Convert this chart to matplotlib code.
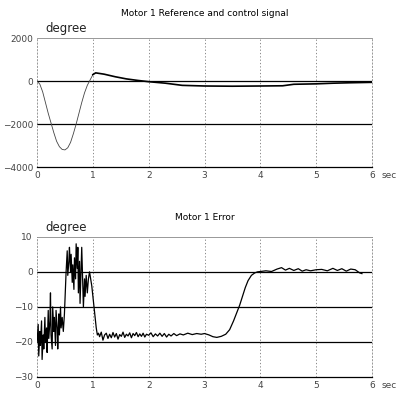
import matplotlib
matplotlib.use("Agg")
import matplotlib.pyplot as plt

# top plot: reference dip (thin) and control signal (thick), degrees vs seconds
ref_t = [0.0, 0.05, 0.1, 0.15, 0.2, 0.25, 0.3, 0.35, 0.4, 0.45, 0.5, 0.55,
         0.6, 0.65, 0.7, 0.75, 0.8, 0.85, 0.9, 0.95, 1.0]
ref_v = [0, -150, -500, -1000, -1500, -1950, -2400, -2800, -3050, -3180, -3200,
         -3100, -2850, -2450, -2000, -1500, -1000, -550, -200, 50, 300]

ctl_t = [1.0, 1.05, 1.2, 1.4, 1.6, 1.8, 2.0, 2.3, 2.6, 3.0, 3.5, 4.0, 4.4,
         4.6, 5.0, 5.3, 5.6, 6.0]
ctl_v = [300, 380, 320, 200, 100, 30, -30, -100, -200, -230, -240, -230, -220,
         -150, -130, -100, -80, -60]

# bottom plot: error signal
err_t = [0.00, 0.02, 0.03, 0.05, 0.06, 0.08, 0.09, 0.11, 0.12, 0.14, 0.15, 0.17,
         0.18, 0.20, 0.21, 0.23, 0.24, 0.25, 0.27, 0.28, 0.30, 0.31, 0.33, 0.34,
         0.36, 0.37, 0.39, 0.40, 0.42, 0.43, 0.45, 0.47, 0.49, 0.51, 0.52, 0.54,
         0.55, 0.57, 0.58, 0.60, 0.61, 0.63, 0.64, 0.66, 0.67, 0.69, 0.70, 0.72,
         0.73, 0.74, 0.76, 0.77, 0.79, 0.80, 0.82, 0.83, 0.85, 0.86, 0.88, 0.90,
         0.92, 0.94, 0.96, 0.98, 1.00, 1.02, 1.04, 1.06, 1.08, 1.10,
         1.12, 1.15, 1.18, 1.21, 1.24, 1.27, 1.30, 1.33, 1.36, 1.39, 1.42, 1.45,
         1.48, 1.51, 1.54, 1.57, 1.60, 1.63, 1.66, 1.69, 1.72, 1.75, 1.78, 1.81,
         1.84, 1.87, 1.90, 1.93, 1.96, 2.00, 2.04, 2.08, 2.12, 2.16, 2.20, 2.24,
         2.28, 2.32, 2.36, 2.40, 2.45, 2.50, 2.56, 2.62, 2.70, 2.78, 2.86, 2.94,
         3.00, 3.08, 3.15, 3.22, 3.30, 3.38, 3.45, 3.52, 3.58, 3.63, 3.68, 3.73,
         3.78, 3.84, 3.90, 3.95, 4.00, 4.10, 4.20, 4.30, 4.38, 4.45, 4.52, 4.60,
         4.68, 4.75, 4.82, 4.90, 5.00, 5.10, 5.20, 5.30, 5.38, 5.46, 5.54, 5.62,
         5.70, 5.78, 5.82]
err_v = [-20, -15, -24, -17, -21, -14, -25, -18, -22, -13, -20, -16,
         -23, -11, -19, -14, -6, -18, -22, -10, -17, -13, -21, -11,
         -16, -22, -12, -18, -10, -16, -13, -17, -12, -4, 0, 6,
         -1, 3, 7, 0, 5, -3, 2, -5, 4, -2, 8, 1,
         7, -6, 3, -9, 2, 7, -4, -10, -2, -7, -1, -6,
         -2, 0, -2, -4, -7, -10, -13, -16, -18, -17.5,
         -18.5, -17.2, -19.5, -18, -17.5, -19, -17.8, -18.8, -17.3, -18.6, -17.6, -19.2,
         -17.9, -18.4, -17.2, -18.7, -17.8, -18.3, -17.4, -18.8, -17.6, -18.2, -17.3, -18.5,
         -17.7, -18.4, -17.5, -18.6, -17.8, -18.1, -17.4, -18.5, -17.7, -18.3, -17.5, -18.4,
         -17.6, -18.6, -17.8, -18.3, -17.6, -18.2, -17.7, -18.0, -17.5, -17.9, -17.6, -17.8,
         -17.6, -18.0, -18.5, -18.7, -18.4, -17.8, -16.5, -14, -11.5, -9.5, -7, -4.5,
         -2.5, -1, -0.3, 0, 0.1, 0.3, 0.1, 0.8, 1.2, 0.5, 1.0, 0.4,
         0.9, 0.2, 0.6, 0.3, 0.6, 0.7, 0.3, 1.0, 0.4, 0.9, 0.2, 0.8,
         0.6, -0.3, -0.5]

x_ticks = [0, 1, 2, 3, 4, 5, 6]
top_yticks = [-4000, -2000, 0, 2000]
bot_yticks = [-30, -20, -10, 0, 10]

fig = plt.figure(figsize=(4.03, 3.96), dpi=100)
ax1 = fig.add_axes([0.092, 0.578, 0.831, 0.326])
ax2 = fig.add_axes([0.092, 0.048, 0.831, 0.354])


def style(ax, yticks, title, tpad):
    ax.set_xlim(0, 6)
    ax.set_ylim(yticks[0], yticks[-1])
    ax.set_xticks(x_ticks)
    ax.set_yticks(yticks)
    ax.tick_params(length=0, labelsize=6.5, colors='#444444', pad=3)
    for y in yticks[1:-1]:
        ax.axhline(y, color='black', lw=0.9, zorder=1)
    for x in x_ticks[1:-1]:
        ax.axvline(x, color='#777777', lw=0.6, ls=(0, (1.5, 2.5)), zorder=1)
    for s in ['left', 'right', 'top']:
        ax.spines[s].set_color('#888888')
        ax.spines[s].set_linewidth(0.6)
        ax.spines[s].set_linestyle((0, (1.5, 2.5)))
    ax.spines['top'].set_linestyle('-')
    ax.spines['bottom'].set_color('black')
    ax.spines['bottom'].set_linewidth(0.9)
    ax.set_title(title, fontsize=6.5, pad=tpad)
    ax.text(0.025, 1.02, 'degree', transform=ax.transAxes, fontsize=8.5,
            color='#222222', ha='left', va='bottom')
    ax.annotate('sec', xy=(1, 0), xycoords='axes fraction',
                xytext=(7, -3), textcoords='offset points', fontsize=6.5,
                color='#444444', ha='left', va='top')


style(ax1, top_yticks, 'Motor 1 Reference and control signal', 16)
ax1.plot(ref_t, ref_v, color='#444444', lw=0.6, zorder=3)
ax1.plot(ctl_t, ctl_v, color='black', lw=1.2, zorder=3)

style(ax2, bot_yticks, 'Motor 1 Error', 12)
ax2.plot(err_t, err_v, color='black', lw=0.9, zorder=3)

fig.savefig('out.png', dpi=100)
